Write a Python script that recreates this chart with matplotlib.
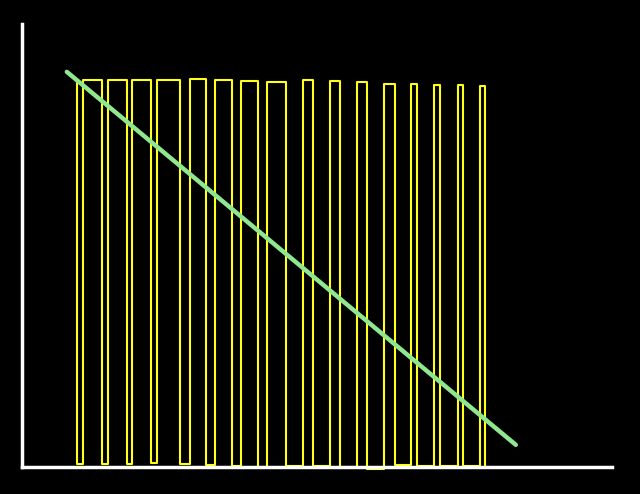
import matplotlib
matplotlib.use("Agg")
import matplotlib.pyplot as plt

# step signal: x positions of the transitions and the level held after each
edge_x = [9.3, 9.3, 10.3, 13.6, 14.6, 17.8, 18.6, 21.9, 22.9, 26.8, 28.5,
          31.2, 32.7, 35.6, 37.1, 40.0, 41.5, 44.7, 47.6, 49.3, 52.2, 53.9,
          56.8, 58.5, 61.4, 63.2, 65.9, 67.0, 69.8, 70.8, 73.9, 74.7, 77.6,
          78.5]
levels = [87.1, 0.7, 87.4, 0.7, 87.4, 0.7, 87.4, 0.9, 87.4, 0.7, 87.6,
          0.45, 87.4, 0.2, 87.1, 0.0, 86.9, 0.2, 87.4, 0.2, 87.1, 0.0, 86.9,
          -0.45, 86.5, 0.45, 86.5, 0.2, 86.2, 0.2, 86.2, 0.2, 86.0, 0.2]

# trend line end points
trend_x = [7.6, 83.7]
trend_y = [89.2, 5.0]

fig = plt.figure(figsize=(6.4, 4.94), dpi=100, facecolor="black")
ax = fig.add_axes([22 / 640, 27 / 494, 590 / 640, 443 / 494])
ax.set_facecolor("black")

ax.plot(edge_x, levels, drawstyle="steps-post", color="#ffff1a",
        linewidth=1.5, clip_on=False)
ax.plot(trend_x, trend_y, color="#8fe88f", linewidth=3.2,
        solid_capstyle="round", clip_on=False)

ax.set_xlim(0, 100)
ax.set_ylim(0, 100)
for side in ("top", "right"):
    ax.spines[side].set_visible(False)
for side in ("left", "bottom"):
    ax.spines[side].set_color("white")
    ax.spines[side].set_linewidth(2.5)
ax.set_xticks([])
ax.set_yticks([])

fig.savefig("out.png", dpi=100, facecolor="black")
